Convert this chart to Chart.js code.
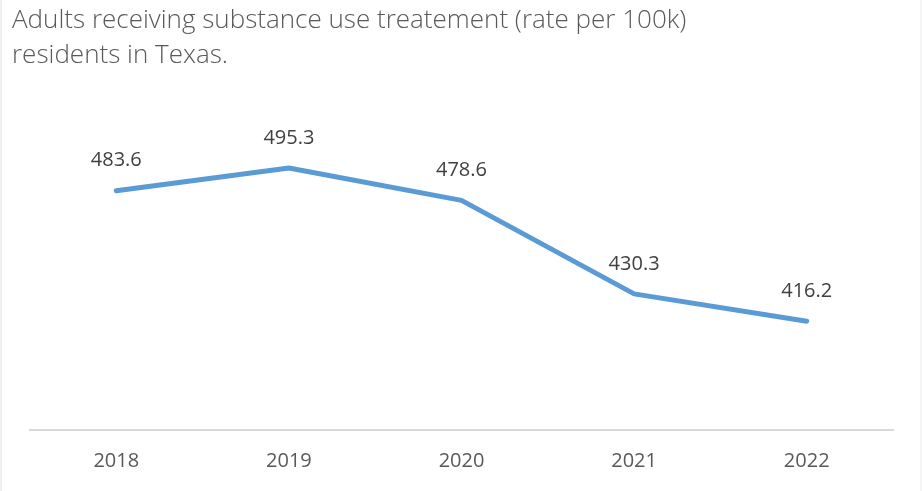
<!DOCTYPE html>
<html>
<head>
<meta charset="utf-8">
<script src="https://cdn.jsdelivr.net/npm/chart.js@4"></script>
<style>
    html, body { margin: 0; padding: 0; background: #fff; }
    #wrap {
        width: 922px; height: 491px; box-sizing: border-box;
        border-left: 2px solid #efefef; border-right: 2px solid #f5f5f5;
    }
    canvas { display: block; }
</style>
</head>
<body>
<div id="wrap"><canvas id="chart" width="918" height="491"></canvas></div>
<script>
const years = ['2018', '2019', '2020', '2021', '2022'];
const rates = [483.6, 495.3, 478.6, 430.3, 416.2];
const titleLines = ['Adults receiving substance use treatement (rate per 100k)', 'residents in Texas.'];

const FONT = '"Open Sans", Lato, sans-serif';

// value labels above each point
const pointLabels = {
    id: 'pointLabels',
    afterDatasetsDraw(chart) {
        const ctx = chart.ctx;
        const meta = chart.getDatasetMeta(0);
        ctx.save();
        ctx.font = '20px ' + FONT;
        ctx.fillStyle = '#404040';
        ctx.textAlign = 'center';
        ctx.textBaseline = 'middle';
        meta.data.forEach((pt, i) => {
            ctx.fillText(rates[i].toFixed(1), pt.x, pt.y - 30);
        });
        ctx.restore();
    }
};

new Chart(document.getElementById('chart').getContext('2d'), {
    type: 'line',
    data: {
        labels: years,
        datasets: [{
            data: rates,
            borderColor: '#5B9BD5',
            borderWidth: 5,
            borderCapStyle: 'round',
            borderJoinStyle: 'round',
            pointRadius: 0,
            tension: 0,
            fill: false
        }]
    },
    options: {
        responsive: false,
        animation: false,
        layout: { padding: { left: 10, right: 27, top: 0, bottom: 18 } },
        plugins: {
            legend: { display: false },
            tooltip: { enabled: false },
            title: {
                display: true,
                text: titleLines,
                align: 'start',
                color: '#595959',
                font: { family: FONT, size: 26, weight: 300, lineHeight: 1.35 },
                padding: { top: 3, bottom: 47 }
            }
        },
        scales: {
            x: {
                offset: true,
                grid: { display: false, drawTicks: false },
                border: { display: true, color: '#d9d9d9', width: 2 },
                ticks: { color: '#595959', font: { family: FONT, size: 20 }, padding: 19 },
                afterFit(scale) { scale.height = 43; }
            },
            y: {
                min: 360,
                max: 520,
                grid: { display: false },
                border: { display: false },
                ticks: { display: false },
                afterFit(scale) { scale.width = 18; }
            }
        }
    },
    plugins: [pointLabels]
});
</script>
</body>
</html>
